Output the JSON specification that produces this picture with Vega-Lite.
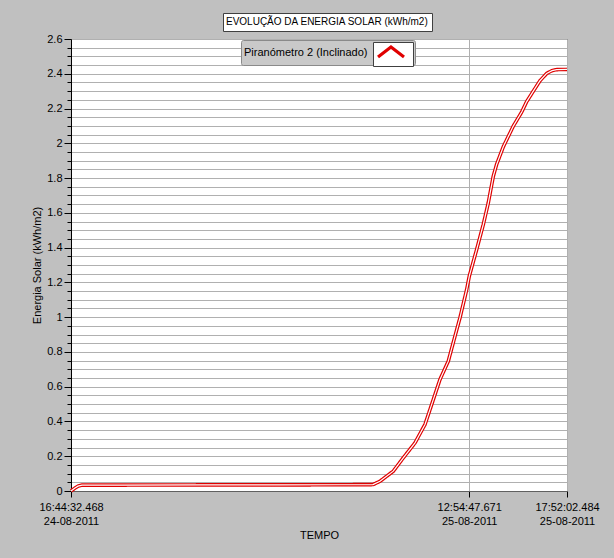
{
  "$schema": "https://vega.github.io/schema/vega-lite/v6.json",
  "width": 496,
  "height": 452,
  "autosize": {"type": "none"},
  "padding": {"left": 71, "top": 39, "right": 47, "bottom": 67},
  "background": "#c0c0c0",
  "config": {
    "view": {"fill": "#ffffff", "stroke": "#303030", "strokeWidth": 1},
    "axis": {"labelFont": "Liberation Sans", "titleFont": "Liberation Sans", "labelFontSize": 11, "titleFontSize": 11, "titleFontWeight": "normal", "labelColor": "#000000", "titleColor": "#000000", "gridColor": "#b0b0b0", "gridOpacity": 1, "tickColor": "#000000", "domainColor": "#000000"}
  },
  "data": {"values": [
    {"t": "2011-08-24T16:44:32.468Z", "v": 0, "serie": "Piranómetro 2 (Inclinado)"},
    {"t": "2011-08-24T16:56:42Z", "v": 0.017, "serie": "Piranómetro 2 (Inclinado)"},
    {"t": "2011-08-24T17:05:49Z", "v": 0.028, "serie": "Piranómetro 2 (Inclinado)"},
    {"t": "2011-08-24T17:17:58Z", "v": 0.034, "serie": "Piranómetro 2 (Inclinado)"},
    {"t": "2011-08-24T19:13:28Z", "v": 0.034, "serie": "Piranómetro 2 (Inclinado)"},
    {"t": "2011-08-24T23:16:37Z", "v": 0.035, "serie": "Piranómetro 2 (Inclinado)"},
    {"t": "2011-08-25T03:19:46Z", "v": 0.035, "serie": "Piranómetro 2 (Inclinado)"},
    {"t": "2011-08-25T06:22:07Z", "v": 0.036, "serie": "Piranómetro 2 (Inclinado)"},
    {"t": "2011-08-25T08:02:25Z", "v": 0.037, "serie": "Piranómetro 2 (Inclinado)"},
    {"t": "2011-08-25T08:23:42Z", "v": 0.056, "serie": "Piranómetro 2 (Inclinado)"},
    {"t": "2011-08-25T09:04:07Z", "v": 0.114, "serie": "Piranómetro 2 (Inclinado)"},
    {"t": "2011-08-25T09:34:30Z", "v": 0.191, "serie": "Piranómetro 2 (Inclinado)"},
    {"t": "2011-08-25T10:10:04Z", "v": 0.277, "serie": "Piranómetro 2 (Inclinado)"},
    {"t": "2011-08-25T10:40:28Z", "v": 0.383, "serie": "Piranómetro 2 (Inclinado)"},
    {"t": "2011-08-25T11:00:49Z", "v": 0.498, "serie": "Piranómetro 2 (Inclinado)"},
    {"t": "2011-08-25T11:26:03Z", "v": 0.642, "serie": "Piranómetro 2 (Inclinado)"},
    {"t": "2011-08-25T11:51:17Z", "v": 0.747, "serie": "Piranómetro 2 (Inclinado)"},
    {"t": "2011-08-25T12:11:38Z", "v": 0.891, "serie": "Piranómetro 2 (Inclinado)"},
    {"t": "2011-08-25T12:26:50Z", "v": 0.997, "serie": "Piranómetro 2 (Inclinado)"},
    {"t": "2011-08-25T12:47:12Z", "v": 1.159, "serie": "Piranómetro 2 (Inclinado)"},
    {"t": "2011-08-25T12:55:06Z", "v": 1.236, "serie": "Piranómetro 2 (Inclinado)"},
    {"t": "2011-08-25T13:17:36Z", "v": 1.39, "serie": "Piranómetro 2 (Inclinado)"},
    {"t": "2011-08-25T13:37:39Z", "v": 1.533, "serie": "Piranómetro 2 (Inclinado)"},
    {"t": "2011-08-25T13:52:51Z", "v": 1.658, "serie": "Piranómetro 2 (Inclinado)"},
    {"t": "2011-08-25T14:08:03Z", "v": 1.811, "serie": "Piranómetro 2 (Inclinado)"},
    {"t": "2011-08-25T14:18:23Z", "v": 1.88, "serie": "Piranómetro 2 (Inclinado)"},
    {"t": "2011-08-25T14:38:26Z", "v": 1.98, "serie": "Piranómetro 2 (Inclinado)"},
    {"t": "2011-08-25T15:08:50Z", "v": 2.099, "serie": "Piranómetro 2 (Inclinado)"},
    {"t": "2011-08-25T15:34:22Z", "v": 2.18, "serie": "Piranómetro 2 (Inclinado)"},
    {"t": "2011-08-25T15:49:34Z", "v": 2.24, "serie": "Piranómetro 2 (Inclinado)"},
    {"t": "2011-08-25T16:09:37Z", "v": 2.3, "serie": "Piranómetro 2 (Inclinado)"},
    {"t": "2011-08-25T16:29:59Z", "v": 2.36, "serie": "Piranómetro 2 (Inclinado)"},
    {"t": "2011-08-25T16:50:21Z", "v": 2.402, "serie": "Piranómetro 2 (Inclinado)"},
    {"t": "2011-08-25T17:06:27Z", "v": 2.418, "serie": "Piranómetro 2 (Inclinado)"},
    {"t": "2011-08-25T17:20:44Z", "v": 2.424, "serie": "Piranómetro 2 (Inclinado)"},
    {"t": "2011-08-25T17:52:02.484Z", "v": 2.425, "serie": "Piranómetro 2 (Inclinado)"}
  ]},
  "encoding": {
    "x": {
      "field": "t", "type": "temporal",
      "scale": {"type": "utc", "domain": [1314204272468, 1314294722484], "nice": false},
      "axis": {
        "title": "TEMPO",
        "values": [1314204272468, 1314276887671, 1314294722484],
        "labelExpr": "[utcFormat(datum.value, '%H:%M:%S.%L'), utcFormat(datum.value, '%d-%m-%Y')]",
        "labelLineHeight": 14,
        "labelPadding": 4,
        "labelFlush": false,
        "labelBound": false,
        "labelOverlap": false,
        "tickSize": 6,
        "grid": true,
        "domainColor": "#606060",
        "titleY": 38,
        "titlePadding": 4
      }
    },
    "y": {
      "field": "v", "type": "quantitative",
      "scale": {"domain": [0, 2.6], "nice": false, "zero": true},
      "axis": {
        "title": "Energia Solar (kWh/m2)",
        "values": [0,0.05,0.1,0.15,0.2,0.25,0.3,0.35,0.4,0.45,0.5,0.55,0.6,0.65,0.7,0.75,0.8,0.85,0.9,0.95,1,1.05,1.1,1.15,1.2,1.25,1.3,1.35,1.4,1.45,1.5,1.55,1.6,1.65,1.7,1.75,1.8,1.85,1.9,1.95,2,2.05,2.1,2.15,2.2,2.25,2.3,2.35,2.4,2.45,2.5,2.55,2.6],
        "format": "~g",
        "labelExpr": "abs(datum.value*5 - round(datum.value*5)) < 0.001 ? datum.label : ''",
        "labelOverlap": false,
        "labelPadding": 2,
        "tickSize": {"condition": {"test": "abs(datum.value*5 - round(datum.value*5)) < 0.001", "value": 7}, "value": 4},
        "grid": true,
        "titleX": -34,
        "titleY": 226,
        "titleAlign": "center",
        "titleBaseline": "middle",
        "titleAngle": -90
      }
    }
  },
  "layer": [
    {
      "mark": {"type": "line", "strokeWidth": 3.6, "interpolate": "linear"},
      "encoding": {
        "stroke": {
          "field": "serie", "type": "nominal",
          "scale": {"range": ["#e00000"]},
          "legend": {
            "orient": "none",
            "legendX": 302,
            "legendY": 3,
            "zindex": 2,
            "title": null,
            "labelExpr": "''",
            "labelFontSize": 1,
            "labelOffset": 0,
            "symbolType": "M-0.83,0.83L1.33,-0.83L3.5,0.83",
            "symbolSize": 144,
            "symbolStrokeWidth": 3.2,
            "symbolFillColor": "transparent",
            "fillColor": "#ffffff",
            "strokeColor": "#404040",
            "padding": 2
          }
        },
        "strokeDash": {
          "field": "serie", "type": "nominal",
          "scale": {"domain": ["Piranómetro 2 (Inclinado)"], "range": [[1, 0]]},
          "legend": {
            "orient": "none",
            "legendX": 170,
            "legendY": 1,
            "zindex": 1,
            "title": "Piranómetro 2 (Inclinado)",
            "titleOrient": "left",
            "titleFont": "Liberation Sans",
            "titleFontSize": 11,
            "titleFontWeight": "normal",
            "titleColor": "#000000",
            "titlePadding": 6,
            "labelExpr": "''",
            "labelFontSize": 1,
            "labelOffset": 18,
            "symbolType": "square",
            "symbolSize": 324,
            "symbolOpacity": 0,
            "fillColor": "#c9c9c9",
            "strokeColor": "#8a8a8a",
            "padding": 3,
            "cornerRadius": 2
          }
        }
      }
    },
    {
      "mark": {"type": "line", "strokeWidth": 1.2, "color": "#ffffff", "interpolate": "linear"},
      "encoding": {}
    },
    {
      "mark": {"type": "point", "opacity": 0},
      "encoding": {
        "shape": {
          "field": "v", "type": "nominal",
          "legend": {
            "orient": "none",
            "legendX": 152,
            "legendY": -26,
            "zindex": 3,
            "values": [0],
            "title": "EVOLUÇÃO DA ENERGIA SOLAR (kWh/m2)",
            "titleOrient": "left",
            "titleFont": "Liberation Sans",
            "titleFontSize": 10,
            "titleFontWeight": "normal",
            "titleColor": "#000000",
            "titleLimit": 400,
            "titlePadding": -16,
            "labelExpr": "''",
            "labelFontSize": 1,
            "labelOffset": 0,
            "symbolSize": 121,
            "symbolOpacity": 0,
            "fillColor": "#ffffff",
            "strokeColor": "#404040",
            "padding": 3
          }
        }
      }
    }
  ]
}
